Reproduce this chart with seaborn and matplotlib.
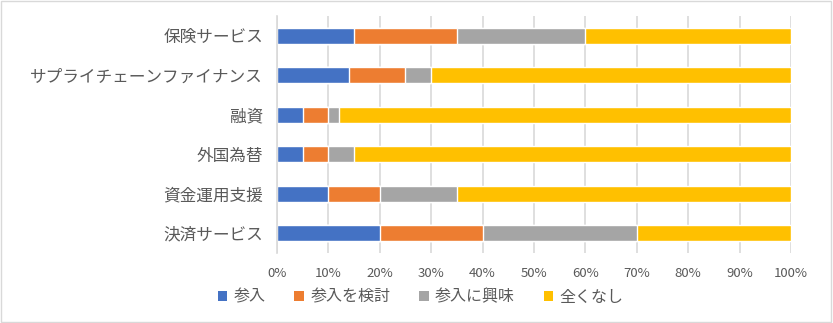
import matplotlib
matplotlib.use("Agg")
import matplotlib.pyplot as plt
from matplotlib.patches import Rectangle, Patch
import seaborn as sns
import pandas as pd
import numpy as np

categories = ["保険サービス", "サプライチェーンファイナンス", "融資", "外国為替", "資金運用支援", "決済サービス"]
series_names = ["参入", "参入を検討", "参入に興味", "全くなし"]
sanyu = [15, 14, 5, 5, 10, 20]
kento = [20, 11, 5, 5, 10, 20]
kyomi = [25, 5, 2, 5, 15, 30]
nashi = [40, 70, 88, 85, 65, 30]
colors = ["#4472C4", "#ED7D31", "#A5A5A5", "#FFC000"]
xticks = [0, 10, 20, 30, 40, 50, 60, 70, 80, 90, 100]

sns.set_theme(style="white")
plt.rcParams['font.family'] = ['Noto Sans CJK JP', 'DejaVu Sans']

vals = np.array([sanyu, kento, kyomi, nashi], dtype=float)
cum = np.cumsum(vals, axis=0) / vals.sum(axis=0) * 100

fig = plt.figure(figsize=(8.33, 3.23), dpi=100)
ax = fig.add_axes([0.3325, 0.217, 0.6171, 0.733])

for i in range(3, -1, -1):
    df = pd.DataFrame({"cat": categories, "val": cum[i]})
    sns.barplot(data=df, y="cat", x="val", color=colors[i], orient="h",
                width=0.4, ax=ax, saturation=1, zorder=2)

ax.set_xlim(0, 100)
ax.set_xticks(xticks)
ax.set_xticklabels([f"{t}%" for t in xticks], color="#595959", fontsize=9.5)
ax.tick_params(axis="y", labelsize=12, labelcolor="#595959", length=0, pad=10)
ax.tick_params(axis="x", length=0, pad=10)
ax.set_xlabel("")
ax.set_ylabel("")
ax.grid(axis="x", color="#d9d9d9", linewidth=1.2, zorder=0)
ax.set_axisbelow(True)
for s in ["top", "right", "bottom"]:
    ax.spines[s].set_visible(False)
ax.spines["left"].set_color("#d9d9d9")
ax.spines["left"].set_linewidth(1.2)

handles = [Patch(facecolor=c, edgecolor="none") for c in colors]
fig.legend(handles, series_names, loc="center", bbox_to_anchor=(0.505, 0.08), ncol=4,
           frameon=False, fontsize=11.5, labelcolor="#595959", handlelength=0.6,
           handleheight=0.6, handletextpad=0.4, columnspacing=1.8)

fig.patches.append(Rectangle((0.001, 0.002), 0.997, 0.995, transform=fig.transFigure,
                             fill=False, edgecolor="#d9d9d9", linewidth=1))

fig.savefig("out.png", dpi=100)
